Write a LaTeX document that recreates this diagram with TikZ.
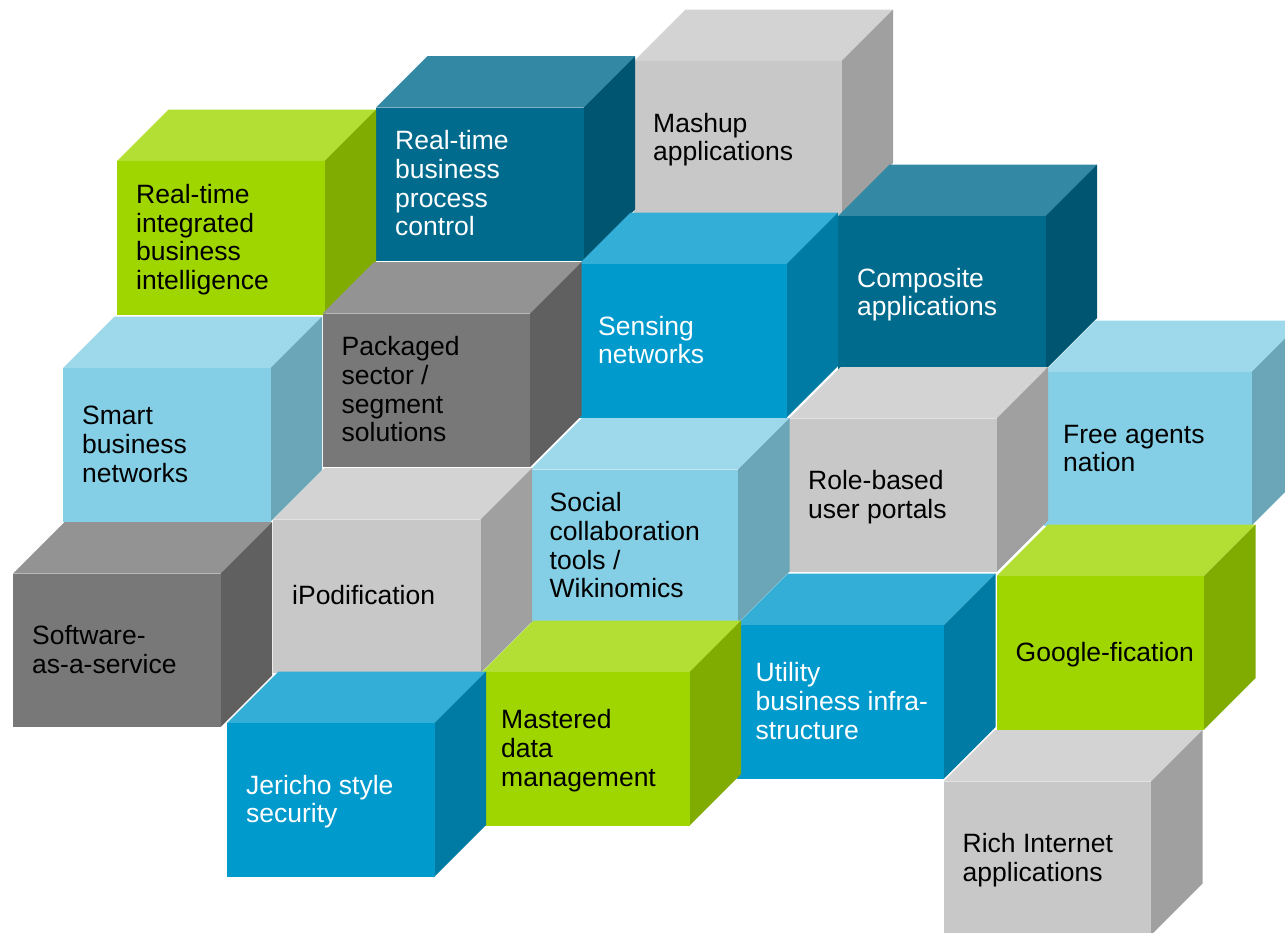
\documentclass[tikz,border=0pt]{standalone}
\usepackage{fontspec}
\setmainfont{Liberation Sans}
\definecolor{cgreen}{RGB}{160,214,0}
\definecolor{cteal}{RGB}{0,107,140}
\definecolor{cblue}{RGB}{0,154,204}
\definecolor{clight}{RGB}{132,207,230}
\definecolor{cgrey}{RGB}{200,200,200}
\definecolor{cdark}{RGB}{120,120,120}
\tikzset{
  cubelabel/.style={inner sep=0pt, anchor=base west, font=\fontsize{26.5}{28.7}\selectfont},
}
\newcommand\cubelines[1]{\begin{tabular}[t]{@{}l@{}}#1\end{tabular}}
% #1 name, #2 x, #3 y (front top-left), #4 colour, #5 text colour, #6 number of lines, #7 text
\newcommand\drawcube[7]{%
  \fill[#4!80!white] ({#2},{#3}) -- ++(51.5,-51.5) -- ++(207.5,0) -- ++(-51.5,51.5) -- cycle;
  \fill[#4!80!black] ({#2+207.5},{#3}) -- ++(51.5,-51.5) -- ++(0,153.5) -- ++(-51.5,51.5) -- cycle;
  \fill[#4] ({#2},{#3}) rectangle ++(207.5,153.5);
  \node[cubelabel, text=#5] (#1) at ({#2+19},{#3+85.4-(#6-1)*14.35}) {\cubelines{#7}};
}
\begin{document}
\begin{tikzpicture}[x=1pt,y=-1pt]
\useasboundingbox (0,0) rectangle (1285,932);
\clip (0,0) rectangle (1285,932);
\drawcube{mashup}{634}{61}{cgrey}{black}{2}{Mashup\\applications}
\drawcube{rtbpc}{376}{107.5}{cteal}{white}{4}{Real-time\\business\\process\\control}
\drawcube{rtibi}{117}{161}{cgreen}{black}{4}{Real-time\\integrated\\business\\intelligence}
\drawcube{composite}{838}{216}{cteal}{white}{2}{Composite\\applications}
\drawcube{sensing}{579}{264}{cblue}{white}{2}{Sensing\\networks}
\drawcube{packaged}{322.5}{313.5}{cdark}{black}{4}{Packaged\\sector /\\segment\\solutions}
\drawcube{smart}{63}{368}{clight}{black}{3}{Smart\\business\\networks}
\drawcube{free}{1044}{372}{clight}{black}{2}{Free agents\\nation}
\drawcube{role}{789}{418.5}{cgrey}{black}{2}{Role-based\\user portals}
\drawcube{social}{530.5}{469.5}{clight}{black}{4}{Social\\collaboration\\tools /\\Wikinomics}
\drawcube{ipod}{273}{519.5}{cgrey}{black}{1}{iPodification}
\drawcube{saas}{13}{573.5}{cdark}{black}{2}{Software-\\as-a-service}
\drawcube{google}{996.5}{576}{cgreen}{black}{1}{Google-fication}
\drawcube{utility}{736.5}{625}{cblue}{white}{3}{Utility\\business infra-\\structure}
\drawcube{mastered}{482}{672}{cgreen}{black}{3}{Mastered\\data\\management}
\drawcube{jericho}{227}{723}{cblue}{white}{2}{Jericho style\\security}
\drawcube{rich}{943.5}{781.5}{cgrey}{black}{2}{Rich Internet\\applications}
\end{tikzpicture}
\end{document}
